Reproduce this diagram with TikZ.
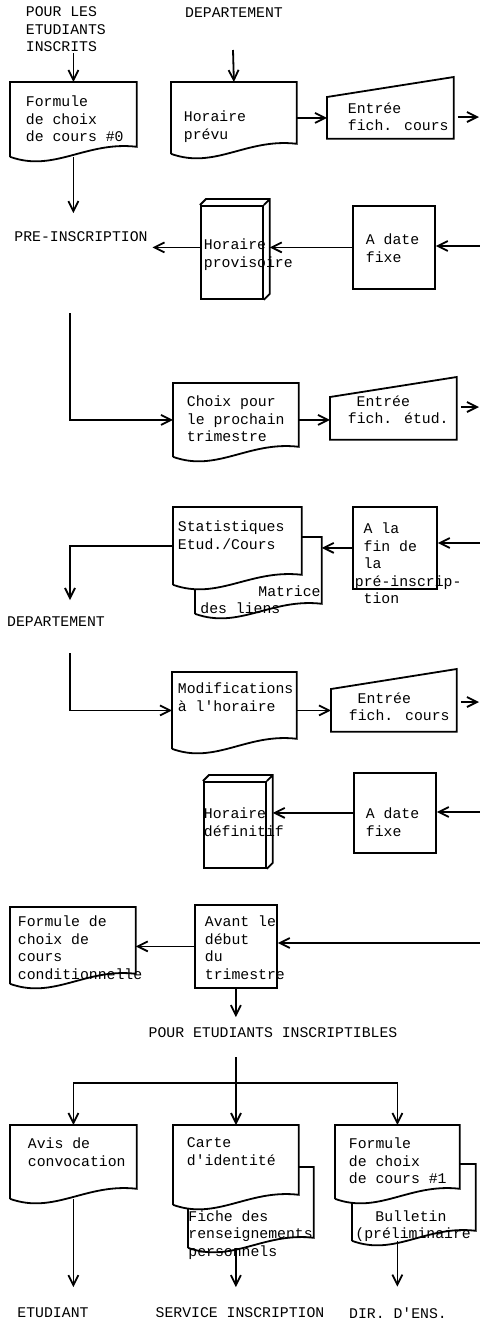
\documentclass[tikz,border=0pt]{standalone}
\usepackage{fontspec}
\usepackage{tikz}
\usetikzlibrary{arrows.meta,positioning,calc,backgrounds}
\newfontfamily\machine{Liberation Mono}
\newcommand\ecrit{\machine\fontsize{7.4pt}{8.75pt}\selectfont}

\begin{document}
\begin{tikzpicture}[x=0.5pt, y=-0.5pt, line width=0.9pt, font=\ecrit,
    >={Straight Barb[length=5pt,width=5pt]},
    trait/.style={line width=0.9pt},
    fleche/.style={trait, ->},
    sz/.style 2 args={minimum width=#1, minimum height=#2},
    base/.style={rectangle, inner sep=0pt, anchor=north west},
    txt/.style={anchor=north west, align=left, inner sep=0pt, font=\ecrit},
    titre/.style={inner sep=0pt, font=\ecrit},
    boite/.style={base, draw, trait, fill=white},
    doc/.style={base, append after command={\pgfextra{
        \draw[trait, fill=white] (\tikzlastnode.south west) -- (\tikzlastnode.north west)
          -- (\tikzlastnode.north east) -- ($(\tikzlastnode.south east)+(0,5pt)$)
          .. controls ($(\tikzlastnode.south west)!0.6!(\tikzlastnode.south east)+(0,8pt)$)
          and ($(\tikzlastnode.south west)!0.35!(\tikzlastnode.south east)+(0,-8pt)$)
          .. (\tikzlastnode.south west);}}},
    entree/.style={base, append after command={\pgfextra{
        \draw[trait, fill=white] (\tikzlastnode.south west) -- ($(\tikzlastnode.north west)+(0,-10pt)$)
          -- (\tikzlastnode.north east) -- (\tikzlastnode.south east) -- cycle;}}},
    livre/.style={boite, append after command={\pgfextra{
        \draw[trait] (\tikzlastnode.north west) -- ++(3pt,3pt) -- ($(\tikzlastnode.north east)+(3pt,3pt)$)
          -- ($(\tikzlastnode.south east)+(3pt,3pt)$) -- (\tikzlastnode.south east)
          (\tikzlastnode.north east) -- ++(3pt,3pt);}}}]

    \useasboundingbox (0,0) rectangle (480,1323);

    % Pre-inscription
    \node[txt] (pourles) at (25,6) {POUR LES\\ETUDIANTS\\INSCRITS};
    \node[titre] (dep1) at (234,13) {DEPARTEMENT};
    \coordinate (d1) at (233,50);
    \node[doc, sz={62.5pt}{36.5pt}, label={[txt, shift={(15,13)}]north west:Formule\\de choix\\de cours \#0}] (f0) at (10,82) {};
    \node[doc, sz={62pt}{35pt}, label={[txt, shift={(12,28)}]north west:Horaire\\prévu}] (prevu) at (171,82) {};
    \node[entree, sz={62.5pt}{30pt}, label={[txt, shift={(20,25)}]north west:Entrée\\fich. cours}] (e1) at (327,77) {};
    \coordinate (s1) at (479,117);
    \node[titre] (preinsc) at (81,237) {PRE-INSCRIPTION};
    \node[livre, sz={31pt}{46.5pt}, label={[txt, shift={(3,33)}]north west:Horaire\\provisoire}] (prov) at (200,205) {};
    \node[boite, sz={41pt}{41.5pt}, label={[txt, shift={(13,28)}]north west:A date\\fixe}] (date1) at (352,205) {};
    \coordinate (s2in) at (480,246);

    % Choix des etudiants
    \coordinate (c1) at (70,313);
    \node[doc, sz={62pt}{36pt}, label={[txt, shift={(13,12)}]north west:Choix pour\\le prochain\\trimestre}] (choix) at (173,383) {};
    \node[entree, sz={62.5pt}{30.5pt}, label={[txt, shift={(17,18)}]north west:\hspace*{4.4pt}Entrée\\fich. étud.}] (e2) at (330,377) {};
    \coordinate (s2) at (479,407);
    \node[doc, sz={63.5pt}{38pt}, label={[txt, shift={(4,13)}]north west:Statistiques\\Etud./Cours}] (stat) at (173,507) {};
    \begin{scope}[on background layer]
      \node[doc, sz={63pt}{38pt}, label={[txt, shift={(5,48)}]north west:\hspace*{29pt}Matrice\\des liens}] (matr) at ([shift={(11pt,-15pt)}]stat.north west) {};
    \end{scope}
    \node[boite, sz={42pt}{41pt}, label={[txt, shift={(2,16)}]north west:\hspace*{4.4pt}A la\\\hspace*{4.4pt}fin de\\\hspace*{4.4pt}la\\pré-inscrip-\\\hspace*{4.4pt}tion}] (fin) at (352,506) {};
    \coordinate (s3in) at (480,543);
    \node[titre] (dep2) at (56,622) {DEPARTEMENT};
    \coordinate (c2) at (70,600);

    % Horaire definitif
    \coordinate (c3) at (70,653);
    \node[doc, sz={61.5pt}{37.5pt}, label={[txt, shift={(5,10)}]north west:Modifications\\à l'horaire}] (modif) at (172,672) {};
    \node[entree, sz={62pt}{30.5pt}, label={[txt, shift={(17,23)}]north west:\hspace*{4.4pt}Entrée\\fich. cours}] (e3) at (331,669) {};
    \coordinate (s4) at (479,702);
    \node[livre, sz={31pt}{43pt}, label={[txt, shift={(0,26)}]north west:Horaire\\définitif}] (def) at (203,781) {};
    \node[boite, sz={41pt}{40pt}, label={[txt, shift={(12,35)}]north west:A date\\fixe}] (date2) at (353,772) {};
    \coordinate (s5in) at (480,812);

    % Debut du trimestre
    \node[doc, sz={62pt}{37.5pt}, label={[txt, shift={(7,8)}]north west:Formule de\\choix de\\cours\\conditionnelle}] (fcond) at (10,907) {};
    \node[boite, sz={41pt}{41.5pt}, label={[txt, shift={(10,11)}]north west:Avant le\\début\\du\\trimestre}] (avant) at (194,904) {};
    \coordinate (s6in) at (480,943);
    \node[titre] (pouri) at (273,1033) {POUR ETUDIANTS INSCRIPTIBLES};
    \coordinate (b0) at (236,1057);
    \coordinate (b1) at (236,1083);

    % Documents finaux
    \node[doc, sz={62.5pt}{36pt}, label={[txt, shift={(17,12)}]north west:Avis de\\convocation}] (avis) at (10,1125) {};
    \node[doc, sz={62pt}{39pt}, label={[txt, shift={(13,12)}]north west:Carte\\d'identité}] (carte) at (173,1125) {};
    \node[doc, sz={61.5pt}{36pt}, label={[txt, shift={(13,12)}]north west:Formule\\de choix\\de cours \#1}] (f1) at (335,1125) {};
    \begin{scope}[on background layer]
      \node[doc, sz={62.5pt}{40pt}, label={[txt, shift={(0,43)}]north west:Fiche des\\renseignements\\personnels}] (fiche) at ([shift={(7.5pt,-21pt)}]carte.north west) {};
      \node[doc, sz={61.5pt}{38pt}, label={[txt, shift={(3,46)}]north west:\hspace*{10pt}Bulletin\\(préliminaire}] (bull) at ([shift={(8.5pt,-19.5pt)}]f1.north west) {};
    \end{scope}
    \node[titre] (etud) at (53,1313) {ETUDIANT};
    \node[titre] (serv) at (240,1313) {SERVICE INSCRIPTION};
    \node[titre] (dir) at (398,1313) {DIR. D'ENS.};

    % Liaisons
    \draw[fleche] (pourles.south -| f0.north) -- (f0.north);
    \draw[fleche] (d1) -- (prevu.north);
    \draw[fleche] (prevu.east) -- (prevu.east -| e1.west);
    \draw[fleche] ([xshift=2pt]e1.east |- s1) -- (s1);
    \draw[fleche] (f0.south) -- ([yshift=9pt]preinsc.north -| f0.south);
    \draw[fleche] (s2in) -- (s2in -| date1.east);
    \draw[fleche] (date1.west) -- ([xshift=3pt]date1.west -| prov.east);
    \draw[fleche] (prov.west |- date1.west) -- ([xshift=2pt]preinsc.east |- date1.west);
    \draw[fleche] (c1) |- (choix.west);
    \draw[fleche] (choix.east) -- (choix.east -| e2.west);
    \draw[fleche] ([xshift=2pt]e2.east |- s2) -- (s2);
    \draw[fleche] (s3in) -- (s3in -| fin.east);
    \draw[fleche] (fin.west) -- (fin.west -| matr.east);
    \draw[fleche] (stat.west) -| (c2);
    \draw[fleche] (c3) |- (modif.west);
    \draw[fleche] (modif.east) -- (modif.east -| e3.west);
    \draw[fleche] ([xshift=2pt]e3.east |- s4) -- (s4);
    \draw[fleche] (s5in) -- (s5in -| date2.east);
    \draw[fleche] (date2.west) -- ([xshift=3pt]date2.west -| def.east);
    \draw[fleche] (s6in) -- (s6in -| avant.east);
    \draw[fleche] (avant.west) -- (avant.west -| fcond.east);
    \draw[fleche] (avant.south) -- ([yshift=5pt]pouri.north -| avant.south);
    \draw[fleche] (b0) -- (b0 |- carte.north);
    \draw[fleche] (b1) -| (avis.north);
    \draw[fleche] (b1) -| (f1.north);
    \draw[fleche] (avis.south) -- ([yshift=10pt]etud.north -| avis.south);
    \draw[fleche] (carte.south |- fiche.south) -- ([yshift=10pt]serv.north -| carte.south);
    \draw[fleche] (f1.south |- bull.south) -- ([yshift=10pt]dir.north -| f1.south);

\end{tikzpicture}
\end{document}
